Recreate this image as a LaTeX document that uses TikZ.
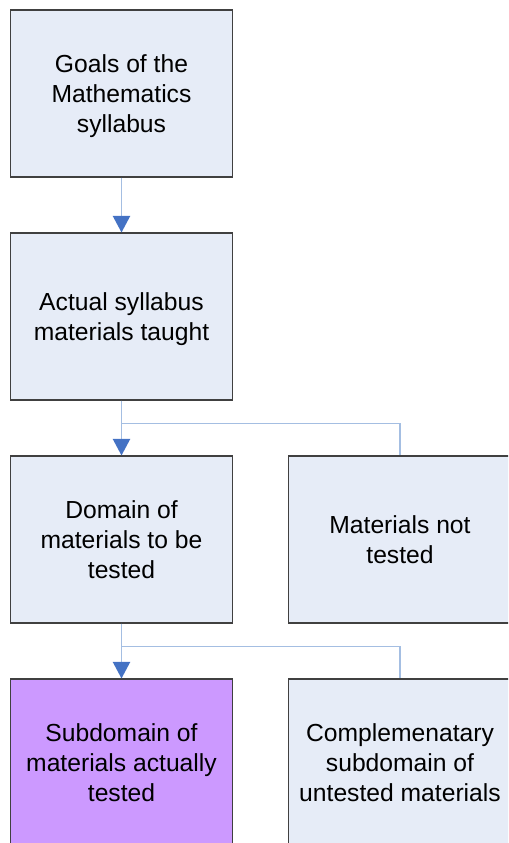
\documentclass[tikz,border=0pt]{standalone}
\usepackage{fontspec}
\setmainfont{Liberation Sans}
\usetikzlibrary{arrows.meta,positioning}
\definecolor{boxfill}{HTML}{E6ECF7}
\definecolor{boxline}{HTML}{404040}
\definecolor{linkblue}{HTML}{A4BEE2}
\definecolor{tipblue}{HTML}{4472C4}
\definecolor{testviolet}{HTML}{CC99FF}

\begin{document}
\begin{tikzpicture}[x=0.75pt, y=-0.75pt,
    stage/.style={rectangle, draw=boxline, fill=boxfill, line width=0.8pt,
        minimum width=167pt, minimum height=125.25pt, inner sep=0,
        text depth=-1.5pt, align=center, font=\fontsize{18.5}{22.5}\selectfont},
    link/.style={draw=linkblue, line width=1.2pt},
    flow/.style={link, -{Triangle[width=13pt, length=12.5pt, color=tipblue]}}
]
\clip (0,0) rectangle (508,843);
\useasboundingbox (0,0) rectangle (508,843);

% Stages
\node[stage] (goals) at (121.5,93.5) {Goals of the\\Mathematics\\syllabus};
\node[stage] (taught) at (121.5,316.5) {Actual syllabus\\materials taught};
\node[stage] (domain) at (121.5,539.5) {Domain of\\materials to be\\tested};
\node[stage] (nottested) at (400,539.5) {Materials not\\tested};
\node[stage, fill=testviolet] (tested) at (121.5,762.5) {Subdomain of\\materials actually\\tested};
\node[stage] (untested) at (400,762.5) {Complemenatary\\subdomain of\\untested materials};

% Connectors
\draw[flow] (goals.south) -- (taught.north);
\draw[flow] (taught.south) -- (domain.north);
\draw[link] (taught.south) -- +(0,23) -| (nottested.north);
\draw[flow] (domain.south) -- (tested.north);
\draw[link] (domain.south) -- +(0,23) -| (untested.north);
\end{tikzpicture}
\end{document}
